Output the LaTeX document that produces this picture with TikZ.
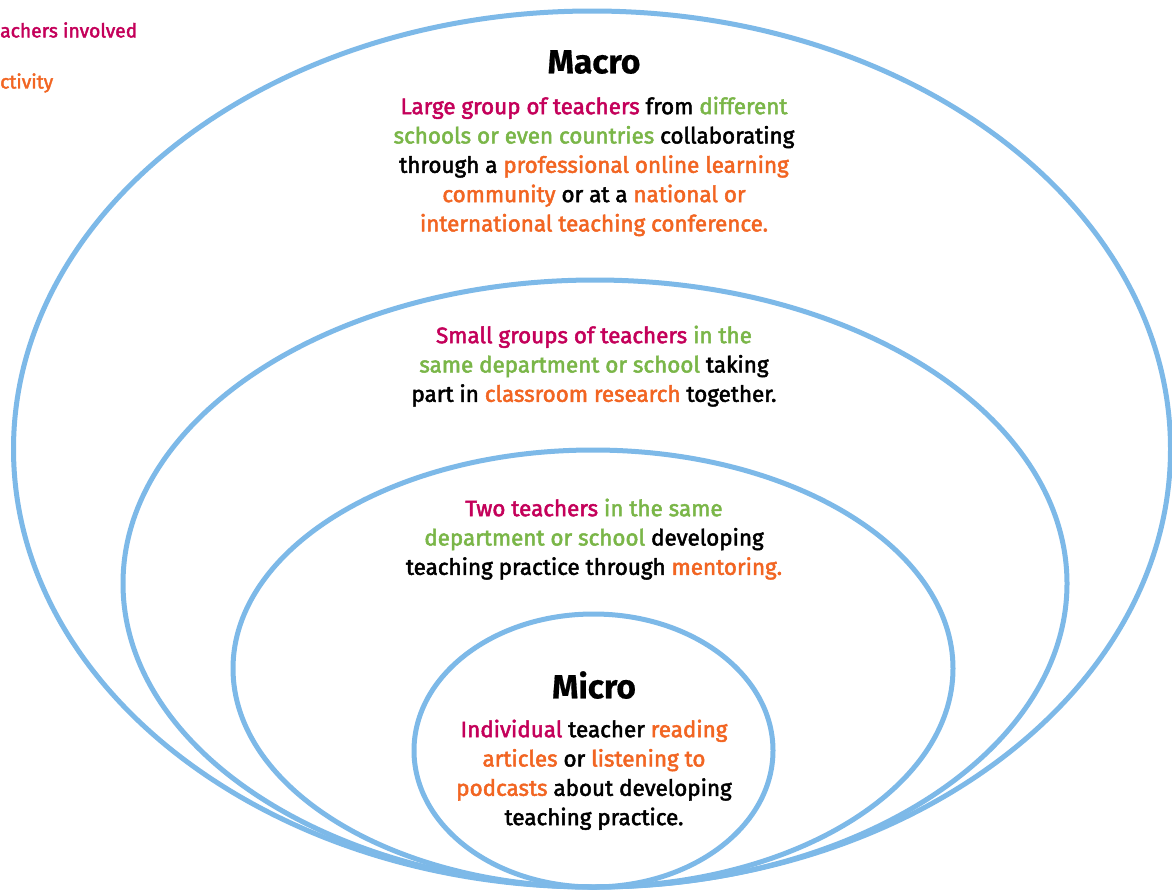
\documentclass[tikz,border=0pt]{standalone}
\usepackage{fontspec}
\setmainfont{Fira Sans}[FakeBold=2.2]
\newfontfamily\titlefont{Fira Sans}[FakeBold=0.5]
\usetikzlibrary{shapes.geometric}
\definecolor{ringc}{HTML}{7DB9E8}
\definecolor{mag}{HTML}{C4005A}
\definecolor{grn}{HTML}{7AB648}
\definecolor{org}{HTML}{F26522}
\newcommand{\M}[1]{\textcolor{mag}{#1}}
\newcommand{\G}[1]{\textcolor{grn}{#1}}
\newcommand{\OR}[1]{\textcolor{org}{#1}}
\tikzset{
  ring/.style={ellipse, draw=ringc, line width=5pt, inner sep=0pt, outer sep=0pt},
  title/.style={font=\titlefont\fontsize{33.5}{38}\bfseries\selectfont, text=black, inner sep=0pt},
  body/.style={font=\fontsize{22.4}{29.3}\selectfont, align=center, text=black, inner sep=0pt},
  legend/.style={font=\fontsize{19.3}{22}\selectfont, anchor=west, inner sep=0pt}
}
\begin{document}
\begin{tikzpicture}[x=1pt,y=-1pt]
\useasboundingbox (0,0) rectangle (1172,892);
\fill[white] (0,0) rectangle (1172,892);
\begin{scope}
\clip (0,0) rectangle (1172,892);
\node[ring, minimum width=1157pt, minimum height=876pt] (outer) at (592,449) {};
\node[ring, minimum width=944pt, minimum height=607pt] (second) at (595,583.5) {};
\node[ring, minimum width=720pt, minimum height=437pt] (third) at (593,668.5) {};
\node[ring, minimum width=359pt, minimum height=273pt] (inner) at (593.5,750.5) {};
\end{scope}
\node[legend, text=mag] (leg1) at (0,30) {achers involved};
\node[legend, text=org] (leg2) at (0,83) {ctivity};
\node[title] (macro) at (594,62) {Macro};
\node[body, anchor=north] (macrotext) at (594,96.5) {\M{Large group of teachers} from \G{different}\\
\G{schools or even countries} collaborating\\
through a \OR{professional online learning}\\
\OR{community} or at a \OR{national or}\\
\OR{international teaching conference.}};
\node[body, anchor=north] (smalltext) at (594,325.5) {\M{Small groups of teachers} \G{in the}\\
\G{same department or school} taking\\
part in \OR{classroom research} together.};
\node[body, anchor=north] (twotext) at (594,498.5) {\M{Two teachers} \G{in the same}\\
\G{department or school} developing\\
teaching practice through \OR{mentoring.}};
\node[title] (micro) at (594,685) {Micro};
\node[body, anchor=north] (microtext) at (594,719.5) {\M{Individual} teacher \OR{reading}\\
\OR{articles} or \OR{listening to}\\
\OR{podcasts} about developing\\
teaching practice.};
\end{tikzpicture}
\end{document}
